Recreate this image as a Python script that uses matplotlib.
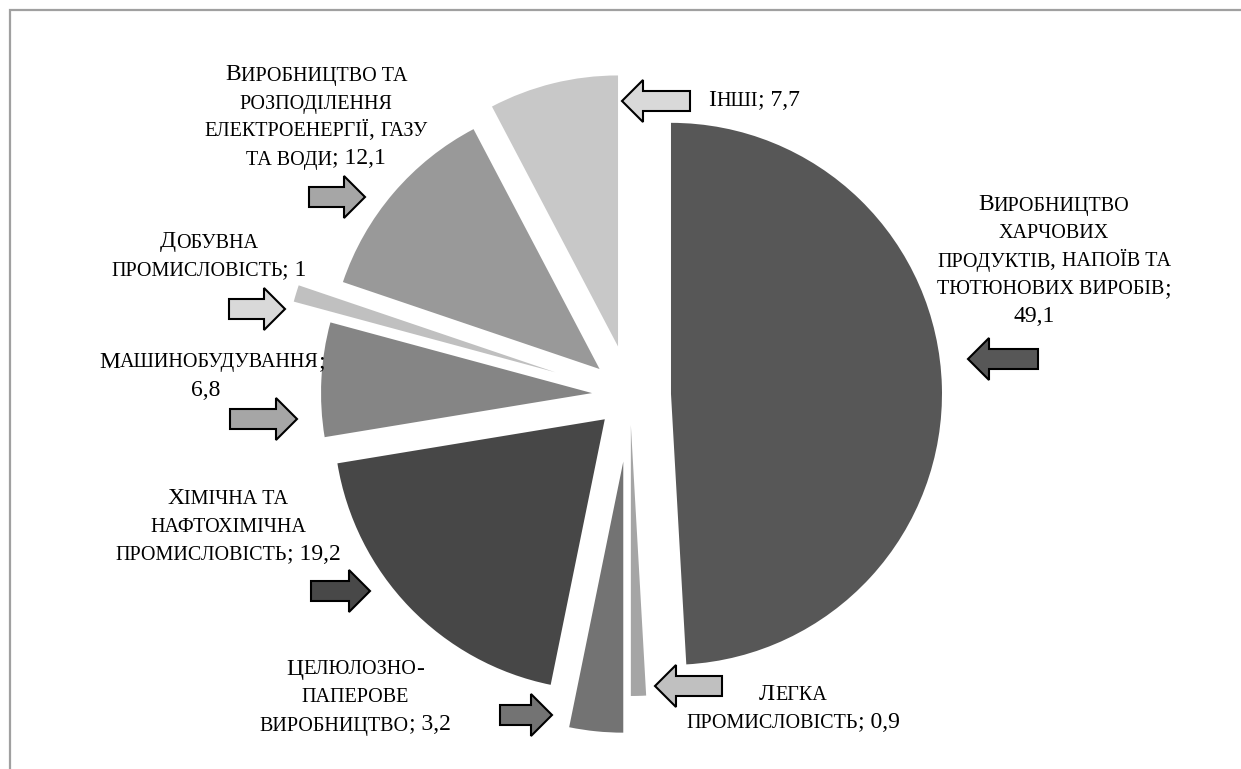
import matplotlib
matplotlib.use("Agg")
import matplotlib.pyplot as plt
from matplotlib.patches import FancyArrow

# data: shares of industries, %
names = ["Виробництво\nхарчових\nпродуктів, напоїв та\nтютюнових виробів",
         "Легка\nпромисловість",
         "Целюлозно-\nпаперове\nвиробництво",
         "Хімічна та\nнафтохімічна\nпромисловість",
         "Машинобудування",
         "Добувна\nпромисловість",
         "Виробництво та\nрозподілення\nелектроенергії, газу\nта води",
         "Інші"]
shares = [49.1, 0.9, 3.2, 19.2, 6.8, 1.0, 12.1, 7.7]
value_on_new_line = [True, False, False, False, True, False, False, False]

# styles (pixel coordinates, y down)
colors = ["#575757", "#a5a5a5", "#737373", "#474747", "#858585", "#c0c0c0", "#999999", "#c8c8c8"]
explode_px = [41, 30, 67, 35, 38, 78, 40, 50]
center = (630, 395)
radius = 271

label_pos = [(1054, 203), (793, 693), (355, 667), (228, 496), (212, 360), (209, 240), (316, 73), (754, 98)]
# x shift of the last label line (food value sits left of centre in the original)
last_line_dx = [-20, 0, 0, 0, -6, 0, 0, 0]
# arrows: tip x, tail x, y, fill
arrows = [(968, 1038, 359, "#575757"), (655, 722, 686, "#c0c0c0"), (552, 500, 715, "#737373"),
          (370, 311, 591, "#484848"), (297, 230, 419, "#a6a6a6"), (285, 229, 309, "#d9d9d9"),
          (365, 309, 197, "#a6a6a6"), (622, 690, 101, "#d9d9d9")]

FONT = "Liberation Serif"
BIG, SMALL = 17, 14.5
LINE_H = 28

W, H = 1241, 769
fig = plt.figure(figsize=(W / 100, H / 100), dpi=100)
ax = fig.add_axes([0, 0, 1, 1])

ax.pie(shares, explode=explode_px, colors=colors, radius=radius, center=center,
       startangle=-90, counterclock=True, wedgeprops=dict(linewidth=0))
ax.set_xlim(0, W)
ax.set_ylim(H, 0)
ax.set_aspect("auto")
ax.axis("off")

# frame (top and left only visible)
ax.plot([10, 10, W + 5], [H + 5, 10, 10], color="#a0a0a0", lw=1.6, solid_joinstyle="miter")

for tip, tail, y, fc in arrows:
    ax.add_patch(FancyArrow(tail, y, tip - tail, 0, width=20, head_width=42, head_length=21,
                            length_includes_head=True, fc=fc, ec="black", lw=1.5))

renderer = fig.canvas.get_renderer()
_bar = {}


def advance(s, size):
    if size not in _bar:
        t = ax.text(0, 0, "||", fontsize=size, family=FONT)
        _bar[size] = t.get_window_extent(renderer).width
        t.remove()
    t = ax.text(0, 0, "|" + s + "|", fontsize=size, family=FONT)
    w = t.get_window_extent(renderer).width
    t.remove()
    return w - _bar[size]


def smallcaps_line(line, xc, yc):
    runs = []
    for ch in line:
        small = ch.islower()
        if ch == " " and runs:
            runs[-1][0] += ch
            continue
        c = ch.upper() if small else ch
        if runs and runs[-1][1] == small:
            runs[-1][0] += c
        else:
            runs.append([c, small])
    sizes = [SMALL if s else BIG for _, s in runs]
    widths = [advance(t, sz) for (t, _), sz in zip(runs, sizes)]
    x = xc - sum(widths) / 2
    for (t, _), sz, w in zip(runs, sizes, widths):
        ax.text(x, yc + 7.5, t, fontsize=sz, family=FONT, va="baseline", ha="left", color="black")
        x += w


for name, v, nl, (xc, y0), dx in zip(names, shares, value_on_new_line, label_pos, last_line_dx):
    val = f"{v:g}".replace(".", ",")
    label = name + ";" + ("\n" if nl else " ") + val
    lines = label.split("\n")
    for i, line in enumerate(lines):
        shift = dx if (i == len(lines) - 1 and len(lines) > 1) else 0
        smallcaps_line(line, xc + shift, y0 + i * LINE_H)

fig.savefig("out.png", dpi=100)
